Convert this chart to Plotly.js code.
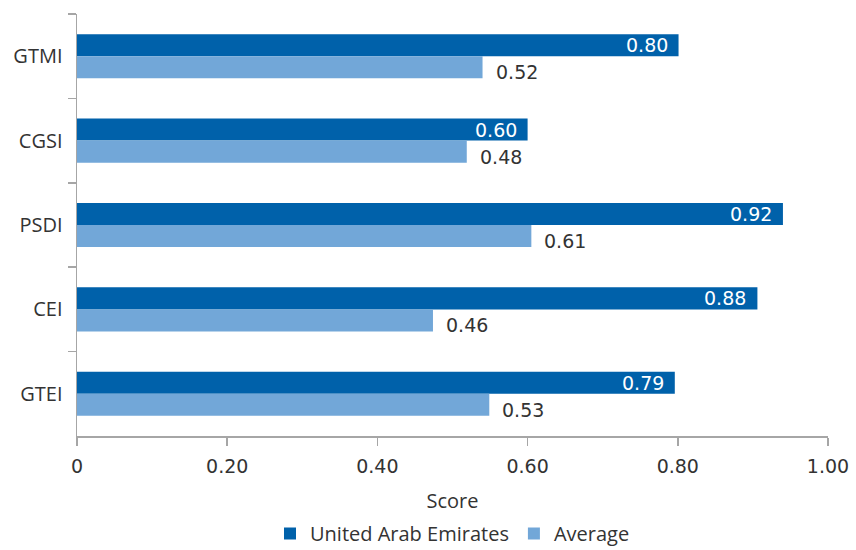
<!DOCTYPE html>
<html>
<head>
<meta charset="utf-8">
<script src="https://cdn.plot.ly/plotly-3.0.1.min.js"></script>
<style>html,body{margin:0;padding:0;background:#fff;}#chart{width:856px;height:550px;}</style>
</head>
<body>
<div id="chart"></div>
<script>
const categories = ['GTMI', 'CGSI', 'PSDI', 'CEI', 'GTEI'];
// bar lengths as drawn in the reference
const uaeValues = [0.801, 0.600, 0.940, 0.906, 0.796];
const avgValues = [0.540, 0.519, 0.605, 0.474, 0.549];
// printed data labels
const uaeLabels = ['0.80', '0.60', '0.92', '0.88', '0.79'];
const avgLabels = ['0.52', '0.48', '0.61', '0.46', '0.53'];
const xTickVals = [0, 0.2, 0.4, 0.6, 0.8, 1.0];
const xTickText = ['0', '0.20', '0.40', '0.60', '0.80', '1.00'];
const seriesNames = ['United Arab Emirates', 'Average'];

const cDark = '#0061aa', cLight = '#72a7d8';
const axisGrey = '#a6a6a6';
const labelFont = {family: 'DejaVu Sans, Verdana, sans-serif', size: 19, color: '#333333'};
const textFont = {family: 'Open Sans, sans-serif', size: 20, color: '#333333'};

const traces = [
  {type: 'bar', orientation: 'h', name: seriesNames[0], y: categories, x: uaeValues,
   marker: {color: cDark}, hoverinfo: 'x'},
  {type: 'bar', orientation: 'h', name: seriesNames[1], y: categories, x: avgValues,
   marker: {color: cLight}, hoverinfo: 'x'}
];

const annotations = [];
categories.forEach((c, i) => {
  annotations.push({x: uaeValues[i], y: c, xref: 'x', yref: 'y', text: uaeLabels[i],
    showarrow: false, xanchor: 'right', yanchor: 'middle', xshift: -9, yshift: 11,
    font: Object.assign({}, labelFont, {color: '#ffffff'})});
  annotations.push({x: avgValues[i], y: c, xref: 'x', yref: 'y', text: avgLabels[i],
    showarrow: false, xanchor: 'left', yanchor: 'middle', xshift: 11, yshift: -16,
    font: labelFont});
});

const layout = {
  width: 856, height: 550,
  margin: {l: 76.5, r: 28, t: 14, b: 114, autoexpand: false},
  paper_bgcolor: '#ffffff', plot_bgcolor: '#ffffff',
  barmode: 'group', bargap: 0.478, bargroupgap: 0,
  showlegend: true,
  legend: {orientation: 'h', x: 0.5, xanchor: 'center', yref: 'container', y: 0.03, yanchor: 'middle',
    font: textFont, itemwidth: 30, tracegroupgap: 0},
  xaxis: {range: [0, 1.0], tickvals: xTickVals, ticktext: xTickText, automargin: false,
    showgrid: false, zeroline: false, showline: true, linecolor: axisGrey, linewidth: 1.5,
    ticks: 'outside', ticklen: 8, tickcolor: axisGrey, tickwidth: 1.5,
    tickfont: labelFont, ticklabelstandoff: 5,
    title: {text: 'Score', font: textFont, standoff: 20}},
  yaxis: {type: 'category', categoryorder: 'array', categoryarray: categories, autorange: 'reversed', automargin: false,
    showgrid: false, zeroline: false, showline: true, linecolor: axisGrey, linewidth: 1.5,
    ticks: 'outside', ticklen: 8, tickcolor: axisGrey, tickwidth: 1.5, tickson: 'boundaries',
    tickfont: textFont, ticklabelstandoff: 9},
  annotations: annotations
};

Plotly.newPlot('chart', traces, layout, {displayModeBar: false, staticPlot: true});
</script>
</body>
</html>
